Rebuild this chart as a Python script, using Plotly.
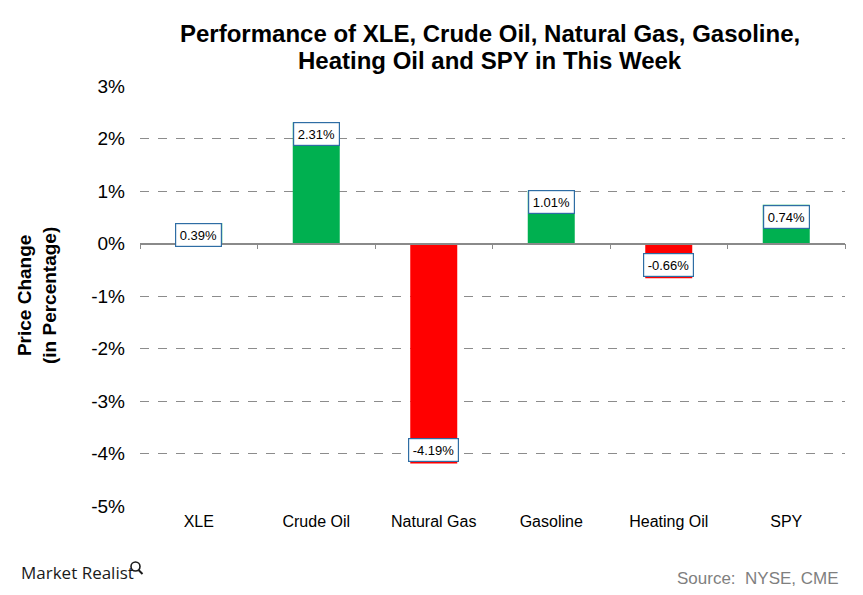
import plotly.graph_objects as go

categories = ["XLE", "Crude Oil", "Natural Gas", "Gasoline", "Heating Oil", "SPY"]
values = [0.39, 2.31, -4.19, 1.01, -0.66, 0.74]
y_ticks = [-5, -4, -3, -2, -1, 0, 1, 2, 3]
title_lines = ["Performance of XLE, Crude Oil, Natural Gas, Gasoline,",
               "Heating Oil and SPY in This Week"]

GREEN = "#00B050"
RED = "#FF0000"
FONT = "Arial, Liberation Sans, sans-serif"

colors = [GREEN if v >= 0 else RED for v in values]

fig = go.Figure()
fig.add_trace(go.Bar(x=categories, y=values, marker=dict(color=colors, line=dict(width=0)),
                     hoverinfo="skip", showlegend=False))
# invisible helper trace so the zero-line axis (with boundary ticks) is drawn
fig.add_trace(go.Scatter(x=list(range(len(categories))), y=[0] * len(categories),
                         xaxis="x2", mode="markers", marker=dict(opacity=0),
                         hoverinfo="skip", showlegend=False))

for c, v in zip(categories, values):
    fig.add_annotation(
        x=c, y=v, xref="x", yref="y", text=f"{v:.2f}%", showarrow=False,
        yanchor="top" if v >= 0 else "bottom", yshift=0 if v >= 0 else 1,
        bgcolor="white", bordercolor="#2E6DA4", borderwidth=1.2, borderpad=3.5,
        font=dict(family=FONT, size=13, color="black"))

ymin, ymax = y_ticks[0], y_ticks[-1]
fig.update_layout(
    width=863, height=595,
    margin=dict(l=140, r=18, t=86, b=89),
    plot_bgcolor="white", paper_bgcolor="white",
    bargap=0.6,
    font=dict(family=FONT, color="black"),
    xaxis=dict(type="category", showline=False, ticks="", showgrid=False,
               tickfont=dict(size=16, color="black"), ticklabelstandoff=4),
    xaxis2=dict(overlaying="x", anchor="free", position=(0 - ymin) / (ymax - ymin),
                range=[-0.5, len(categories) - 0.5],
                tickvals=[i - 0.5 for i in range(len(categories) + 1)],
                ticks="outside", ticklen=5, tickcolor="#8A8A8A", tickwidth=1.2,
                showline=True, linecolor="#8A8A8A", linewidth=1.5,
                showticklabels=False, showgrid=False, zeroline=False, side="bottom"),
    yaxis=dict(range=[ymin, ymax], tickvals=y_ticks,
               ticktext=[f"{t}%" for t in y_ticks],
               showgrid=True, gridcolor="#8C8C8C", griddash="dash", gridwidth=1,
               zeroline=False, showline=False, ticks="",
               tickfont=dict(size=19, color="black"), ticklabelstandoff=14),
)

for i, line in enumerate(title_lines):
    fig.add_annotation(
        text=f"<b>{line}</b>", xref="paper", yref="paper", x=0.5, y=1,
        yanchor="middle", yshift=86 - 33 - 27 * i, xshift=-3,
        showarrow=False, font=dict(family=FONT, size=24, color="black"))

fig.add_annotation(
    text="<b>Price Change<br>(in Percentage)</b>", textangle=-90,
    xref="paper", yref="paper", x=0, y=0.5, xanchor="center", yanchor="middle",
    xshift=-103, showarrow=False, font=dict(family=FONT, size=19, color="black"))

fig.add_annotation(
    text="Source:  NYSE, CME", xref="paper", yref="paper", x=1, y=0,
    xanchor="right", yanchor="middle", xshift=-4, yshift=-72,
    showarrow=False, font=dict(family=FONT, size=17, color="#7F7F7F"))

fig.add_annotation(
    text="Market Realist", xref="paper", yref="paper", x=0, y=0,
    xanchor="left", yanchor="middle", xshift=-121, yshift=-66,
    showarrow=False, font=dict(family="Open Sans, sans-serif", size=17, color="#1a1a1a"))

# small magnifier glyph of the logo
fig.add_shape(type="circle", xref="paper", yref="paper", xsizemode="pixel", ysizemode="pixel",
              xanchor=0, yanchor=0, x0=-9, x1=0, y0=-65, y1=-56,
              line=dict(color="#1a1a1a", width=1.6))
fig.add_shape(type="line", xref="paper", yref="paper", xsizemode="pixel", ysizemode="pixel",
              xanchor=0, yanchor=0, x0=-1.5, x1=2.5, y0=-64, y1=-68,
              line=dict(color="#1a1a1a", width=2))

fig.write_html("out.html")
